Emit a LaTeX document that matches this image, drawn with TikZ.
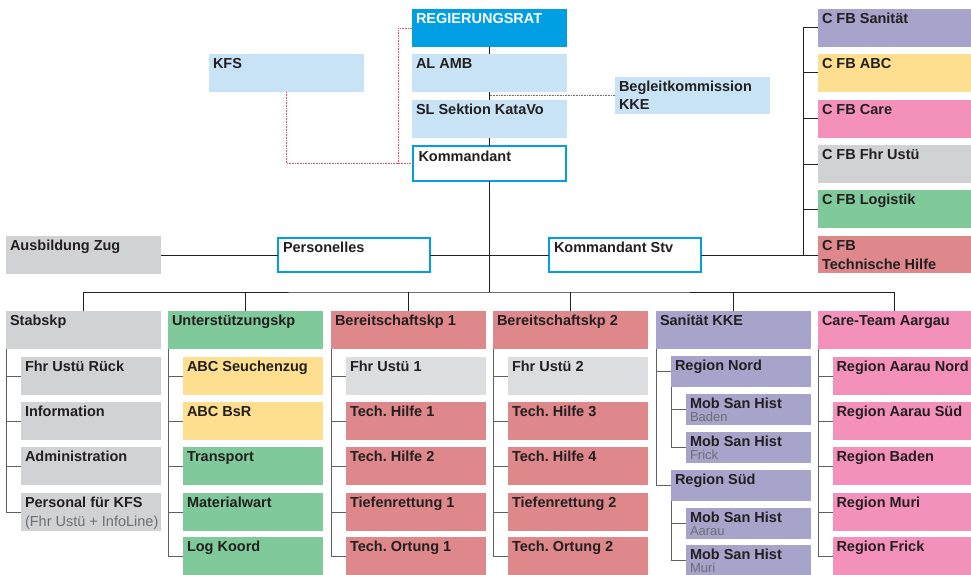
\documentclass[tikz,border=0pt]{standalone}
\usepackage{fontspec}
\setmainfont{Liberation Sans}
\usetikzlibrary{calc}
\frenchspacing

\definecolor{cblue}{HTML}{009FE3}
\definecolor{clight}{HTML}{C7E3F5}
\definecolor{cgray}{HTML}{D1D2D4}
\definecolor{cgrayl}{HTML}{DCDDDF}
\definecolor{cgreen}{HTML}{80C99A}
\definecolor{cyellow}{HTML}{FDDF8F}
\definecolor{cred}{HTML}{DF888C}
\definecolor{cpurple}{HTML}{A7A3CB}
\definecolor{cpink}{HTML}{F391BB}
\definecolor{ctext}{HTML}{231F20}
\definecolor{csub}{HTML}{6D6E71}
\definecolor{cline}{HTML}{231F20}
\definecolor{ctree}{HTML}{5F6062}
\definecolor{cdotred}{HTML}{E8505B}
\definecolor{cdotgray}{HTML}{6D6E71}

\newcommand{\twol}[2]{\begin{tabular}[t]{@{}l@{}}#1\\#2\end{tabular}}
\newcommand{\subl}[1]{{\mdseries\color{csub}#1}}

% name, x1, y1, x2, y2, box style, text, label options
\newcommand{\bx}[8]{%
  \node[box,#6,minimum width={#4pt-#2pt},minimum height={#5pt-#3pt}] (#1) at (#2,#3) {};
  \node[lbl,#8] (#1-t) at ([xshift=4pt,yshift=-14.5pt]#1.north west) {#7};
}
% Mob San Hist boxes: two separate lines
\newcommand{\mob}[5]{% name, x1, y1, y2, city
  \node[box,fill=cpurple,minimum width={811pt-#2pt},minimum height={#4pt-#3pt}] (#1) at (#2,#3) {};
  \node[lbl] (#1-t) at ([xshift=4pt,yshift=-14pt]#1.north west) {Mob San Hist};
  \node[lbl,font=\fontsize{13}{13}\selectfont,text=csub] (#1-s) at ([yshift=-13.5pt]#1-t.base west) {#5};
}

\tikzset{
  box/.style={rectangle,anchor=north west,inner sep=0pt,outer sep=0pt},
  kbox/.style={draw=cblue,line width=2pt,fill=white},
  lbl/.style={anchor=base west,inner sep=0pt,outer sep=0pt,text=ctext,
    font=\fontsize{14.5}{18.5}\selectfont\bfseries},
  mainline/.style={draw=cline,line width=1pt},
  tree/.style={draw=ctree,line width=1pt},
  reddot/.style={draw=cdotred,line width=0.9pt,dash pattern=on 0.9pt off 0.7pt},
  graydot/.style={draw=cdotgray,line width=0.9pt,dash pattern=on 0.9pt off 0.7pt},
}

\begin{document}
\begin{tikzpicture}[x=1pt,y=-1pt]
\useasboundingbox (0,0) rectangle (971,575);

\coordinate (bus) at (489.5,292);
\coordinate (cfbj) at (803,255);
\coordinate (rj) at (398,163.5);

% ---------- top ----------
\bx{rr}{412}{9}{567}{47}{fill=cblue}{REGIERUNGSRAT}{text=white}
\bx{kfs}{209}{54}{364}{92}{fill=clight}{KFS}{}
\bx{al}{412}{54}{567}{92}{fill=clight}{AL AMB}{}
\bx{sl}{412}{100}{567}{138}{fill=clight}{SL Sektion KataVo}{}
\bx{kdt}{413}{146}{566}{181}{kbox}{Kommandant}{xshift=1.5pt,yshift=-1pt}
\bx{bk}{615}{77}{770}{114}{fill=clight}{\twol{Begleitkommission}{KKE}}{}

% ---------- right column ----------
\bx{cs}{818}{9}{971}{47}{fill=cpurple}{C FB Sanität}{}
\bx{ca}{818}{54}{971}{92}{fill=cyellow}{C FB ABC}{}
\bx{cc}{818}{100}{971}{138}{fill=cpink}{C FB Care}{}
\bx{cf}{818}{145}{971}{183}{fill=cgray}{C FB Fhr Ustü}{}
\bx{cl}{818}{190}{971}{228}{fill=cgreen}{C FB Logistik}{}
\bx{ct}{818}{236}{971}{273}{fill=cred}{\twol{C FB}{Technische Hilfe}}{}

% ---------- middle row ----------
\bx{az}{6}{236}{161}{274}{fill=cgray}{Ausbildung Zug}{}
\bx{pers}{278}{238}{430}{272}{kbox}{Personelles}{xshift=1pt,yshift=0pt}
\bx{kstv}{549}{238}{701}{272}{kbox}{Kommandant Stv}{xshift=1pt,yshift=0pt}

% ---------- level 1 ----------
\bx{stab}{6}{311}{161}{349}{fill=cgray}{Stabskp}{}
\bx{ustk}{168}{311}{323}{349}{fill=cgreen}{Unterstützungskp}{}
\bx{bka}{331}{311}{486}{349}{fill=cred}{Bereitschaftskp 1}{}
\bx{bkb}{493}{311}{648}{349}{fill=cred}{Bereitschaftskp 2}{}
\bx{san}{656}{311}{811}{349}{fill=cpurple}{Sanität KKE}{}
\bx{care}{818}{311}{971}{349}{fill=cpink}{Care-Team Aargau}{}

% ---------- column 1 ----------
\bx{s1}{21}{357}{161}{395}{fill=cgray}{Fhr Ustü Rück}{}
\bx{s2}{21}{402}{161}{440}{fill=cgray}{Information}{}
\bx{s3}{21}{447}{161}{485}{fill=cgray}{Administration}{}
\bx{s4}{21}{493}{161}{531}{fill=cgray}{\twol{Personal für KFS}{\subl{(Fhr Ustü + InfoLine)}}}{}

% ---------- column 2 ----------
\bx{u1}{183}{357}{323}{395}{fill=cyellow}{ABC Seuchenzug}{}
\bx{u2}{183}{402}{323}{440}{fill=cyellow}{ABC BsR}{}
\bx{u3}{183}{447}{323}{485}{fill=cgreen}{Transport}{}
\bx{u4}{183}{493}{323}{531}{fill=cgreen}{Materialwart}{}
\bx{u5}{183}{537}{323}{575}{fill=cgreen}{Log Koord}{}

% ---------- column 3 ----------
\bx{a1}{346}{357}{486}{395}{fill=cgrayl}{Fhr Ustü 1}{}
\bx{a2}{346}{402}{486}{440}{fill=cred}{Tech. Hilfe 1}{}
\bx{a3}{346}{447}{486}{485}{fill=cred}{Tech. Hilfe 2}{}
\bx{a4}{346}{493}{486}{531}{fill=cred}{Tiefenrettung 1}{}
\bx{a5}{346}{537}{486}{575}{fill=cred}{Tech. Ortung 1}{}

% ---------- column 4 ----------
\bx{b1}{508}{357}{648}{395}{fill=cgrayl}{Fhr Ustü 2}{}
\bx{b2}{508}{402}{648}{440}{fill=cred}{Tech. Hilfe 3}{}
\bx{b3}{508}{447}{648}{485}{fill=cred}{Tech. Hilfe 4}{}
\bx{b4}{508}{493}{648}{531}{fill=cred}{Tiefenrettung 2}{}
\bx{b5}{508}{537}{648}{575}{fill=cred}{Tech. Ortung 2}{}

% ---------- column 5 ----------
\bx{rn}{671}{356}{811}{387}{fill=cpurple}{Region Nord}{}
\mob{mb}{686}{394}{425}{Baden}
\mob{mf}{686}{432}{463}{Frick}
\bx{rs}{671}{470}{811}{501}{fill=cpurple}{Region Süd}{}
\mob{ma}{686}{508}{539}{Aarau}
\mob{mm}{686}{545}{575}{Muri}

% ---------- column 6 ----------
\bx{c1}{833}{357}{971}{395}{fill=cpink}{Region Aarau Nord}{xshift=-0.5pt}
\bx{c2}{833}{402}{971}{440}{fill=cpink}{Region Aarau Süd}{xshift=-0.5pt}
\bx{c3}{833}{447}{971}{485}{fill=cpink}{Region Baden}{xshift=-0.5pt}
\bx{c4}{833}{493}{971}{531}{fill=cpink}{Region Muri}{xshift=-0.5pt}
\bx{c5}{833}{537}{971}{575}{fill=cpink}{Region Frick}{xshift=-0.5pt}

% ---------- connectors ----------
\draw[mainline] (rr) -- (al);
\draw[mainline] (al) -- (sl);
\draw[mainline] (sl) -- (kdt);
\draw[mainline] (kdt.south) -- (bus);
\draw[mainline] (stab.north) |- (bus) -| (care.north);
\foreach \n in {ustk,bka,bkb,san} \draw[mainline] (\n.north) -- (\n.north |- bus);
\draw[mainline] (az.east) -- (pers.west);
\draw[mainline] (pers.east) -- (kstv.west);
\draw[mainline] (kstv.east) -- (kstv.east -| ct.west);
\draw[mainline] (cs.west) -| (cfbj);
\foreach \n in {ca,cc,cf,cl} \draw[mainline] (\n.west) -- (\n.west -| cfbj);

\draw[reddot] (kfs.south) |- (kdt.west);
\draw[reddot] (rr.west) -| (rj);
\draw[graydot] (bk.west) -- (bk.west -| al.south);

\foreach \n in {s1,s2,s3,s4} \draw[tree] (stab.south west) |- (\n.west);
\foreach \n in {u1,u2,u3,u4,u5} \draw[tree] (ustk.south west) |- (\n.west);
\foreach \n in {a1,a2,a3,a4,a5} \draw[tree] (bka.south west) |- (\n.west);
\foreach \n in {b1,b2,b3,b4,b5} \draw[tree] (bkb.south west) |- (\n.west);
\foreach \n in {c1,c2,c3,c4,c5} \draw[tree] (care.south west) |- (\n.west);
\foreach \n in {rn,rs} \draw[tree] (san.south west) |- (\n.west);
\foreach \n in {mb,mf} \draw[tree] (rn.south west) |- (\n.west);
\foreach \n in {ma,mm} \draw[tree] (rs.south west) |- (\n.west);
\end{tikzpicture}
\end{document}
